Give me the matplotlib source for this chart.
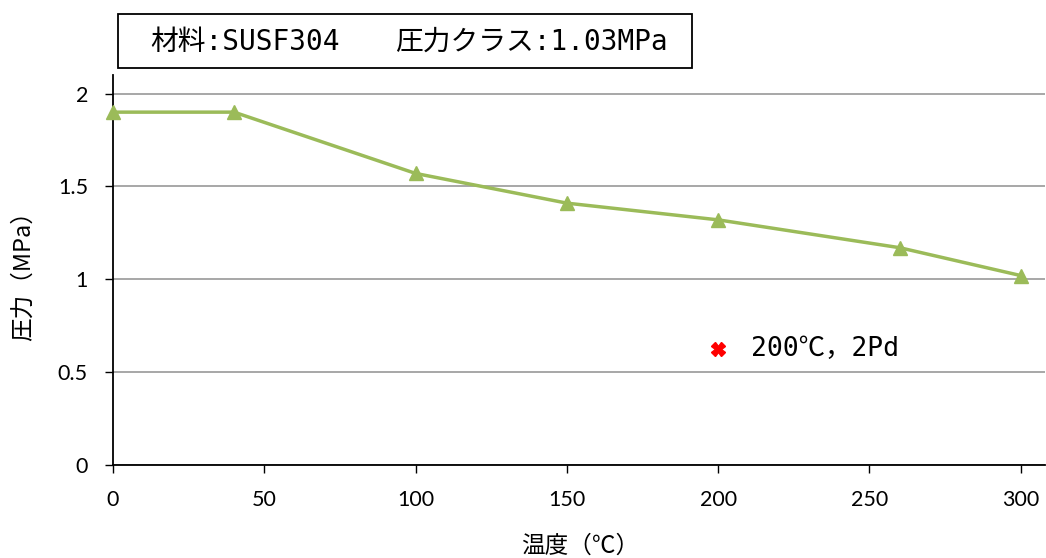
import matplotlib
matplotlib.use("Agg")
import matplotlib.pyplot as plt
from matplotlib.patches import Rectangle

temps = [0, 40, 100, 150, 200, 260, 300]
pressures = [1.9, 1.9, 1.57, 1.41, 1.32, 1.17, 1.02]
test_x = [200]
test_y = [0.625]
test_label = "200℃，2Pd"
title_part1 = "材料:SUSF304"
title_part2 = "圧力クラス:1.03MPa"
xticks = [0, 50, 100, 150, 200, 250, 300]
yticks = [0, 0.5, 1, 1.5, 2]
yticklabels = ["0", "0.5", "1", "1.5", "2"]

plt.rcParams['font.family'] = ['Lato', 'Noto Sans CJK JP', 'DejaVu Sans']
W, H = 1046, 558
mono = ['DejaVu Sans Mono', 'Noto Sans CJK JP', 'DejaVu Sans']

fig = plt.figure(figsize=(W/100, H/100), dpi=100)
ax = fig.add_axes([113/W, 1-465/H, (1045-113)/W, (465-75)/H])

ax.plot(temps, pressures, color='#9BBB59', lw=2.5, marker='^', ms=10,
        markerfacecolor='#9BBB59', markeredgecolor='#9BBB59', zorder=3, clip_on=False)
ax.plot(test_x, test_y, linestyle='none', marker='X', ms=10, color='#FF0000', zorder=3)
ax.text(test_x[0] + 11, test_y[0], test_label, fontsize=19, va='center', ha='left',
        family=mono)

ax.set_xlim(0, 308)
ax.set_ylim(0, 2.1)
ax.set_xticks(xticks)
ax.set_yticks(yticks)
ax.set_yticklabels(yticklabels)
ax.tick_params(axis='both', labelsize=15.5, direction='out', length=6, width=1)
ax.tick_params(axis='x', pad=12)
ax.tick_params(axis='y', pad=12)
ax.yaxis.grid(True, color='#A0A0A0', lw=1.3)
ax.set_axisbelow(True)
for s in ['top', 'right']:
    ax.spines[s].set_visible(False)
for s in ['left', 'bottom']:
    ax.spines[s].set_linewidth(1.3)
    ax.spines[s].set_color('black')

ax.set_xlabel("温度（℃）", fontsize=17, family=['Noto Sans CJK JP'])
ax.set_ylabel("圧力（MPa）", fontsize=17, family=['Noto Sans CJK JP'])
ax.xaxis.set_label_coords((580-113)/932, (465-535)/390)
ax.yaxis.set_label_coords((35-113)/932, 0.5)

fig.add_artist(Rectangle((118/W, 1-68/H), (692-118)/W, (68-14)/H, transform=fig.transFigure,
                         facecolor='white', edgecolor='black', lw=1.3))
fig.text(150/W, 1-42/H, title_part1, fontsize=20, ha='left', va='center', family=mono)
fig.text(395/W, 1-42/H, title_part2, fontsize=20, ha='left', va='center', family=mono)

fig.savefig("out.png", dpi=100)
